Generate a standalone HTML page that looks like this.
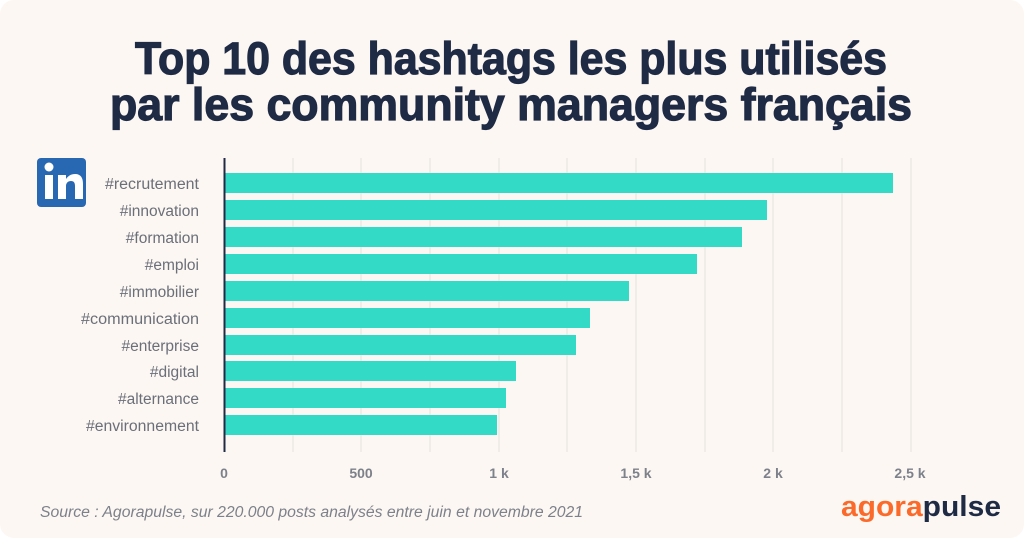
<!DOCTYPE html>
<html><head><style>
html,body{margin:0;padding:0;background:#fff;}
svg{display:block;}
</style></head><body>
<svg width="1024" height="538" xmlns="http://www.w3.org/2000/svg" font-family="Liberation Sans, sans-serif">
<rect x="0" y="0" width="1024" height="538" rx="14" fill="#fcf7f2"/>
<text x="511" y="74" text-anchor="middle" font-size="45" font-weight="bold" fill="#1f2b45" stroke="#1f2b45" stroke-width="1.2" textLength="752" lengthAdjust="spacingAndGlyphs">Top 10 des hashtags les plus utilisés</text>
<text x="511" y="120" text-anchor="middle" font-size="45" font-weight="bold" fill="#1f2b45" stroke="#1f2b45" stroke-width="1.2" textLength="802" lengthAdjust="spacingAndGlyphs">par les community managers français</text>
<g stroke="#e3e0dd" stroke-width="1">
<line x1="293" y1="158" x2="293" y2="452"/><line x1="361" y1="158" x2="361" y2="452"/><line x1="430" y1="158" x2="430" y2="452"/><line x1="499" y1="158" x2="499" y2="452"/><line x1="567" y1="158" x2="567" y2="452"/><line x1="636" y1="158" x2="636" y2="452"/><line x1="705" y1="158" x2="705" y2="452"/><line x1="773" y1="158" x2="773" y2="452"/><line x1="842" y1="158" x2="842" y2="452"/><line x1="911" y1="158" x2="911" y2="452"/>
</g>
<g fill="#33dac6">
<rect x="224" y="173" width="669" height="20"/>
<rect x="224" y="200" width="543" height="20"/>
<rect x="224" y="227" width="518" height="20"/>
<rect x="224" y="254" width="473" height="20"/>
<rect x="224" y="281" width="405" height="20"/>
<rect x="224" y="308" width="366" height="20"/>
<rect x="224" y="335" width="352" height="20"/>
<rect x="224" y="361" width="292" height="20"/>
<rect x="224" y="388" width="282" height="20"/>
<rect x="224" y="415" width="273" height="20"/>
</g>
<line x1="224.5" y1="158" x2="224.5" y2="452" stroke="#1f2b45" stroke-width="2"/>
<g font-size="15.5" fill="#6b6f7a" text-anchor="end">
<text x="199" y="189" textLength="94" lengthAdjust="spacingAndGlyphs">#recrutement</text>
<text x="199" y="216">#innovation</text>
<text x="199" y="243">#formation</text>
<text x="199" y="270">#emploi</text>
<text x="199" y="297">#immobilier</text>
<text x="199" y="324" textLength="118" lengthAdjust="spacingAndGlyphs">#communication</text>
<text x="199" y="351">#enterprise</text>
<text x="199" y="377">#digital</text>
<text x="199" y="404">#alternance</text>
<text x="199" y="431" textLength="113" lengthAdjust="spacingAndGlyphs">#environnement</text>
</g>
<g font-size="14" font-weight="bold" fill="#7d818b" text-anchor="middle">
<text x="224" y="478">0</text><text x="361" y="478">500</text><text x="499" y="478">1 k</text><text x="636" y="478">1,5 k</text><text x="773" y="478">2 k</text><text x="910" y="478">2,5 k</text>
</g>
<rect x="37" y="158" width="49" height="49" rx="4" fill="#2867b2"/>
<rect x="45" y="175" width="8" height="24" fill="#fff"/>
<circle cx="49" cy="167" r="4.5" fill="#fff"/>
<path d="M58 175h8v4c2-3 5-5 9-5c6 0 8 4 8 10v15h-8v-13c0-3-1-5-4-5s-5 2-5 5v13h-8z" fill="#fff"/>
<text x="40" y="517" font-size="15.5" font-style="italic" fill="#7d818b" textLength="543" lengthAdjust="spacingAndGlyphs">Source : Agorapulse, sur 220.000 posts analysés entre juin et novembre 2021</text>
<text x="841" y="516" font-size="29" font-weight="bold" textLength="160" lengthAdjust="spacingAndGlyphs"><tspan fill="#fb6a2a">agora</tspan><tspan fill="#1f2b45">pulse</tspan></text>
</svg>
</body></html>
